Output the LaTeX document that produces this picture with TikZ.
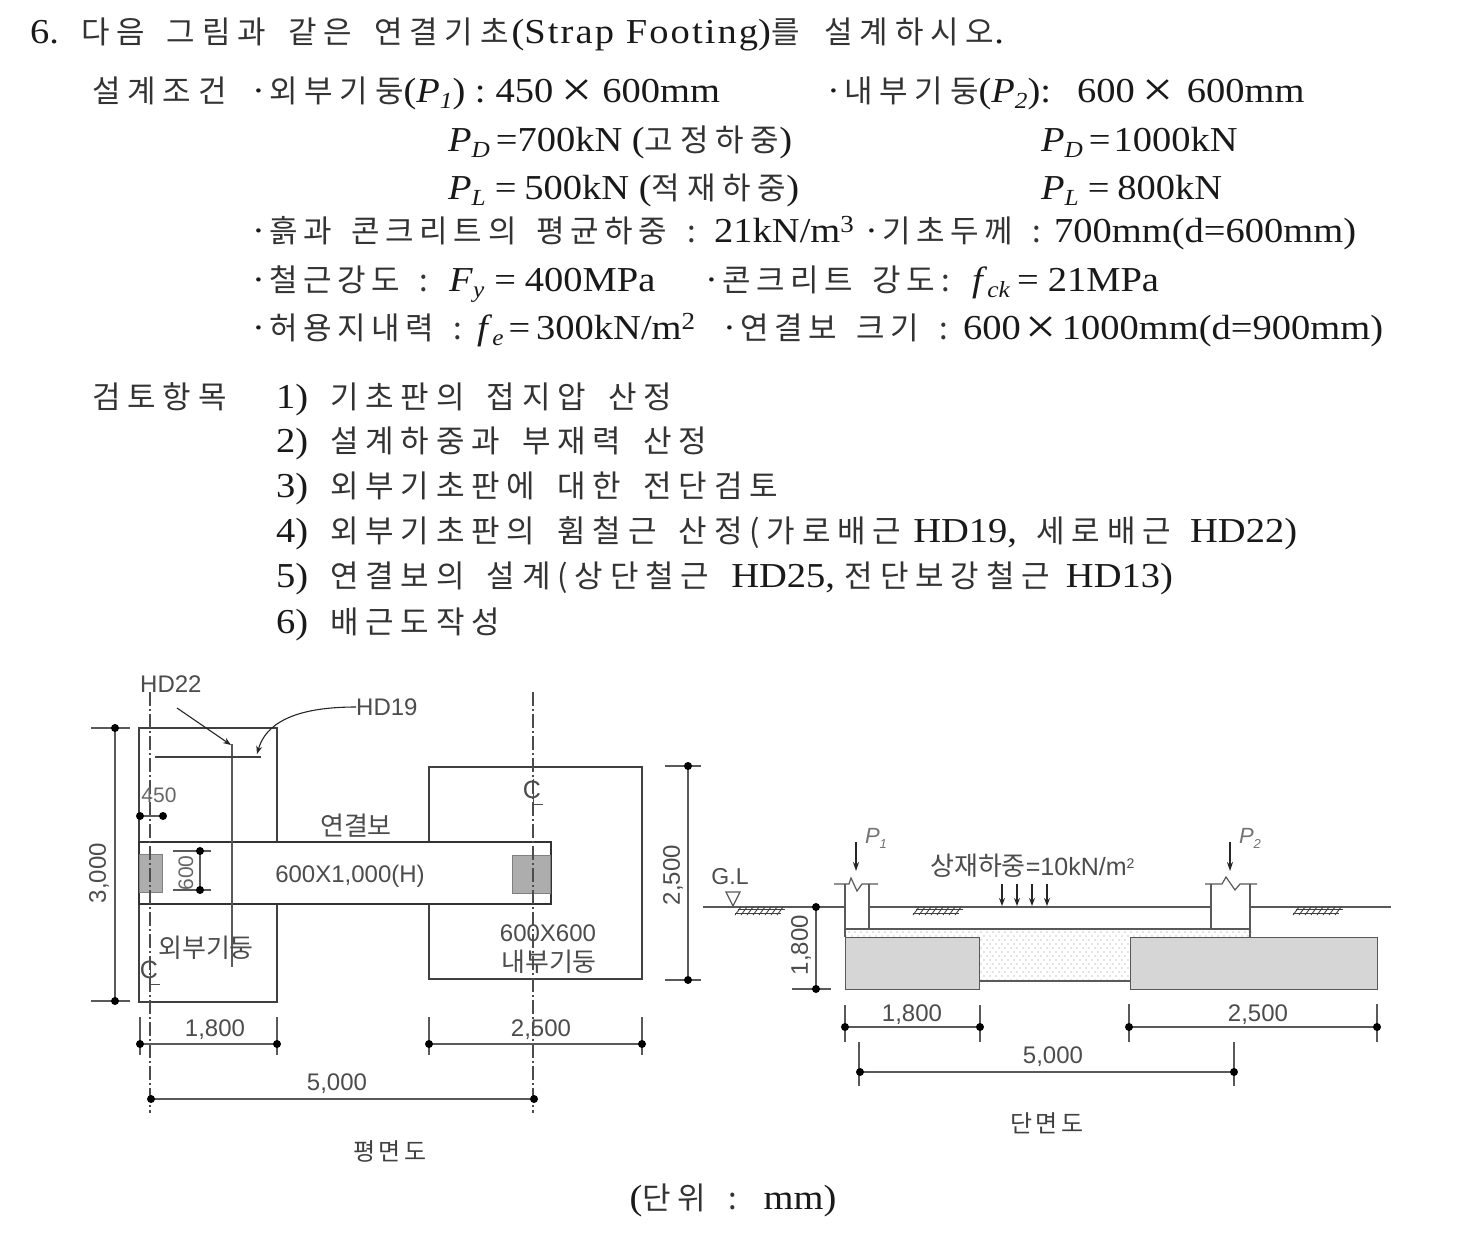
\documentclass[tikz,border=0pt]{standalone}
\usepackage{fontspec}
\setmainfont[FakeStretch=1.10]{Liberation Serif}
\newfontfamily\kofont[LetterSpace=22,WordSpace=1.6]{Noto Sans CJK KR}
\newfontfamily\konar[LetterSpace=18,WordSpace=1.6]{Noto Sans CJK KR}
\newfontfamily\kosm[LetterSpace=16]{Noto Sans CJK KR}
\newfontfamily\kolab{Noto Sans CJK KR}
\newfontfamily\lab{Liberation Sans}
\definecolor{kogray}{gray}{0.2}
\newcommand\tsz{\fontsize{35}{38}\selectfont}
\newcommand\ksz{\fontsize{31}{34}\selectfont}
\newcommand\ko[1]{{\kofont\ksz\color{kogray}#1}}
\newcommand\kn[1]{{\konar\ksz\color{kogray}#1}}
\newcommand\kl[1]{{\kolab\fontsize{26}{28}\selectfont #1}}
\newcommand\vr[2]{\textit{#1}\raisebox{-6pt}{\fontsize{23}{24}\selectfont\textit{#2}}}
\newcommand\tm{\hspace{8pt}\raisebox{-4.5pt}{\fontsize{50}{50}\selectfont ×}\hspace{10pt}}
\newcommand\tmn{\hspace{5pt}\raisebox{-4.5pt}{\fontsize{50}{50}\selectfont ×}\hspace{5pt}}
\newcommand\bul{·\hspace{4pt}}
\usetikzlibrary{arrows.meta}
\tikzset{
  x=1pt,y=-1pt,
  txt/.style={anchor=base west,inner sep=0pt,font=\tsz,text=black!90},
  lbl/.style={inner sep=0pt,font=\fontsize{24}{26}\selectfont\lab,text=black!70},
  lblsm/.style={inner sep=0pt,font=\fontsize{21}{22}\selectfont\lab,text=black!60},
  hl/.style={inner sep=0pt,font=\fontsize{26}{28}\selectfont\kolab,text=black!70},
  title/.style={inner sep=0pt,font=\fontsize{24}{26}\selectfont\kosm,text=black!75},
  dimline/.style={line width=1.1pt,draw=black!65},
  dot/.style={circle,fill=black,inner sep=0pt,minimum size=8pt},
  heavy/.style={line width=2pt,draw=black!75},
  thinl/.style={line width=1.2pt,draw=black!65},
  center/.style={line width=1.3pt,draw=black!70,dash pattern=on 14pt off 3pt on 2pt off 3pt},
  col/.style={fill=black!32,draw=black!50,line width=1pt},
  foot/.style={fill=black!16,draw=black!65,line width=1.2pt},
  la/.style={-{Stealth[length=9pt,width=6pt]},line width=1.6pt,draw=black!85},
  sa/.style={-{Stealth[length=8pt,width=6pt]},line width=1.1pt,draw=black!85},
  hatch/.style={line width=.9pt,draw=black!75},
}
\newcommand\hatchmark[2]{%
  \foreach \i in {0,6,...,42}{\draw[hatch] ({#1+\i+6},#2) -- ({#1+\i},{#2+8});}
  \draw[hatch] ({#1+3},{#2+2.5}) -- ({#1+50},{#2+2.5});
  \draw[hatch] ({#1},{#2+6}) -- ({#1+46},{#2+6});
}
\newcommand\cl[2]{\node[inner sep=0pt,font=\fontsize{25}{26}\selectfont\lab,text=black!70] at (#1,#2) {C};
  \draw[line width=1pt,draw=black!70] ({#1+1},{#2-11}) -- ({#1+1},{#2+14}) -- ({#1+11},{#2+14});}
\begin{document}
\begin{tikzpicture}
\useasboundingbox (0,0) rectangle (1468,1256);
\fill[white] (0,0) rectangle (1468,1256);
% ---- text
\node[txt] (t1) at (30,43) {6.\hspace{22pt}\ko{다음 그림과 같은 연결기초}\hspace{3pt}({\addfontfeature{LetterSpace=6}Strap Footing})\ko{를 \hspace{3pt}설계하시오}.};
\node[txt] (t2) at (92,102) {\ko{설계조건}};
\node[txt] (t3) at (252,102) {\bul\ko{외부기둥}(\vr{P}{1}) :\hspace{10pt}450\tm 600mm};
\node[txt] (t4) at (827,102) {\bul\ko{내부기둥}(\vr{P}{2}):\hspace{26pt}600\tm\hspace{3pt}600mm};
\node[txt] (t5) at (448,151) {\vr{P}{D}\,=700kN (\ko{고정하중})};
\node[txt] (t6) at (1041,151) {\vr{P}{D}\,=\hspace{3pt}1000kN};
\node[txt] (t7) at (448,199) {\vr{P}{L}\hspace{9pt}=\hspace{8pt}500kN (\ko{적재하중})};
\node[txt] (t8) at (1041,199) {\vr{P}{L}\hspace{9pt}=\hspace{8pt}800kN};
\node[txt] (t9) at (252,242) {\bul\kn{흙과 콘크리트의 평균하중 :}};
\node[txt] (t9b) at (714,242) {21kN/m\textsuperscript{3}};
\node[txt] (t9c) at (865,242) {\bul\kn{기초두께 :}};
\node[txt] (t9d) at (1054,242) {700mm(d=600mm)};
\node[txt] (t10) at (252,291) {\bul\kn{철근강도 :}};
\node[txt] (t10b) at (449,291) {\vr{F}{y}\hspace{10pt}=\hspace{9pt}400MPa};
\node[txt] (t11) at (705,291) {\bul\kn{콘크리트 강도:}};
\node[txt] (t11b) at (972,291) {\vr{f}{ck}\hspace{7pt}=\hspace{9pt}21MPa};
\node[txt] (t12) at (252,339) {\bul\kn{허용지내력 :}};
\node[txt] (t12b) at (477,339) {\vr{f}{e}\hspace{5pt}=\hspace{6pt}300kN/m\textsuperscript{2}};
\node[txt] (t13) at (723,339) {\bul\kn{연결보 크기 :}};
\node[txt] (t13b) at (963,339) {600\tmn 1000mm(d=900mm)};
\node[txt] (t14) at (92,408) {\ko{검토항목}};
\node[txt] (t15) at (276,408) {1)\hspace{22pt}\ko{기초판의 접지압 산정}};
\node[txt] (t16) at (276,452) {2)\hspace{22pt}\ko{설계하중과 부재력 산정}};
\node[txt] (t17) at (276,497) {3)\hspace{22pt}\ko{외부기초판에 대한 전단검토}};
\node[txt] (t18) at (276,542) {4)\hspace{22pt}\ko{외부기초판의 휨철근 산정(가로배근 }\hspace{-10pt}HD19,\hspace{10pt} \ko{세로배근 }\hspace{-3pt}HD22)};
\node[txt] (t19) at (276,587) {5)\hspace{22pt}\ko{연결보의 설계(상단철근 }HD25, \ko{전단보강철근 }\hspace{-6pt}HD13)};
\node[txt] (t20) at (276,633) {6)\hspace{22pt}\ko{배근도작성}};
% ---- plan
\draw[heavy] (139,728) rectangle (277,1002);
\draw[heavy,fill=white] (429,767) rectangle (642,979);
\draw[thinl,line width=1.6pt,draw=black!80,fill=white] (139,842) rectangle (551,904);
\node[col,minimum width=23pt,minimum height=38pt,inner sep=0pt] (c1) at (151,873) {};
\node[col,minimum width=38pt,minimum height=38pt,inner sep=0pt] (c2) at (531,874) {};
\draw[center] (150,692) -- (150,1113);
\draw[center] (533,692) -- (533,1113);
\cl{149}{970}
\cl{532}{790}
\draw[thinl] (232,744) -- (232,967);
\draw[heavy] (155,757) -- (261,757);
\coordinate (h22a) at (177,708);
\coordinate (h22b) at (231,745);
\draw[sa] (h22a) -- (h22b);
\node[lbl,anchor=west] (hd22) at (140,684) {HD22};
\node[lbl,anchor=west] (hd19) at (356,707) {HD19};
\draw[sa] (hd19.west) .. controls (310,707) and (268,716) .. (257,754);
\node[lblsm] at (159,795) {450};
\draw[dimline] (139,816) -- (163,816);
\node[dot] at (140,816) {};
\node[dot] at (163,816) {};
\node[lblsm,rotate=90] at (186,873) {600};
\draw[dimline] (173,851) -- (211,851) (173,890) -- (211,890) (200,851) -- (200,890);
\node[dot] at (200,851) {};
\node[dot] at (200,890) {};
\node[hl] at (206,948) {외부기둥};
\node[hl] at (356,826) {연결보};
\node[lbl] at (350,876) {600X1,000(H)};
\node[lbl] at (548,933) {600X600};
\node[hl] at (549,962) {내부기둥};
% dims plan
\draw[dimline] (115,728) -- (115,1001);
\draw[dimline] (91,728) -- (130,728) (91,1001) -- (130,1001);
\node[dot] at (115,728) {};
\node[dot] at (115,1001) {};
\node[lbl,rotate=90] at (99,873) {3,000};
\draw[dimline] (140,1017) -- (140,1055) (277,1017) -- (277,1055) (140,1044) -- (277,1044);
\node[dot] at (140,1044) {};
\node[dot] at (277,1044) {};
\node[lbl] at (215,1030) {1,800};
\draw[dimline] (429,1017) -- (429,1055) (642,1017) -- (642,1055) (429,1044) -- (642,1044);
\node[dot] at (429,1044) {};
\node[dot] at (642,1044) {};
\node[lbl] at (541,1030) {2,500};
\draw[dimline] (151,1099) -- (534,1099);
\node[dot] at (151,1099) {};
\node[dot] at (534,1099) {};
\node[lbl] at (337,1084) {5,000};
\draw[dimline] (665,766) -- (701,766) (665,980) -- (701,980) (688,766) -- (688,980);
\node[dot] at (688,766) {};
\node[dot] at (688,980) {};
\node[lbl,rotate=90] at (673,875) {2,500};
\node[title] at (390,1151) {평면도};
% ---- section
\draw[thinl] (703,907) -- (845,907) (869,907) -- (1211,907) (1250,907) -- (1391,907);
\node[lbl,font=\fontsize{23}{24}\selectfont\lab] at (730,877) {G.L};
\draw[thinl,fill=white] (726,892) -- (740,892) -- (733,906) -- cycle;
\hatchmark{735}{907}
\hatchmark{913}{907}
\hatchmark{1293}{907}
% strap beam
\foreach \yy [count=\r] in {932,936,...,980} {
  \pgfmathsetmacro\off{mod(\r,2)*3}
  \foreach \xx in {846,852,...,1248} {\fill[black!45] ({\xx+\off},\yy) circle (.6pt);}
}
\draw[thinl] (845,929) -- (1250,929) (980,981) -- (1130,981);
\node[foot,minimum width=134pt,minimum height=52pt,inner sep=0pt,anchor=north west] (f1) at (845,937) {};
\node[foot,minimum width=247pt,minimum height=52pt,inner sep=0pt,anchor=north west] (f2) at (1130,937) {};
% columns
\draw[thinl] (845,884) -- (845,937) (869,884) -- (869,929);
\draw[thinl] (1211,884) -- (1211,929) (1250,884) -- (1250,937);
\draw[thinl] (834,884) -- (849,884) -- (851,878) -- (857,891) -- (862,884) -- (878,884);
\draw[thinl] (1205,884) -- (1222,884) -- (1226,877) -- (1235,890) -- (1240,884) -- (1257,884);
\draw[la] (856,842) -- (856,871);
\draw[la] (1230,842) -- (1230,871);
\node[lbl,font=\fontsize{22}{24}\selectfont\lab\itshape,text=black!55] at (876,838) {P\raisebox{-5pt}{\fontsize{13}{14}\selectfont 1}};
\node[lbl,font=\fontsize{22}{24}\selectfont\lab\itshape,text=black!55] at (1250,838) {P\raisebox{-5pt}{\fontsize{13}{14}\selectfont 2}};
\node[hl,anchor=west,font=\fontsize{25}{26}\selectfont\lab] at (930,866) {\kl{상재하중}=10kN/m\raisebox{7pt}{\fontsize{14}{15}\selectfont 2}};
\foreach \x in {1002,1017,1032,1047} {\draw[line width=1.3pt,draw=black!85,-{Stealth[length=8pt,width=6pt]}] (\x,884) -- (\x,906);}
% section dims
\draw[dimline] (816,907) -- (816,989) (792,989) -- (831,989);
\node[dot] at (816,907) {};
\node[dot] at (816,989) {};
\node[lbl,rotate=90] at (801,945) {1,800};
\draw[dimline] (845,1005) -- (845,1042) (980,1005) -- (980,1042) (845,1027) -- (980,1027);
\node[dot] at (845,1027) {};
\node[dot] at (980,1027) {};
\node[lbl] at (912,1015) {1,800};
\draw[dimline] (1129,1004) -- (1129,1042) (1377,1004) -- (1377,1042) (1129,1027) -- (1377,1027);
\node[dot] at (1129,1027) {};
\node[dot] at (1377,1027) {};
\node[lbl] at (1258,1015) {2,500};
\draw[dimline] (859,1042) -- (859,1086) (1234,1042) -- (1234,1086) (859,1072) -- (1234,1072);
\node[dot] at (860,1072) {};
\node[dot] at (1234,1072) {};
\node[lbl] at (1053,1057) {5,000};
\node[title] at (1047,1123) {단면도};
\node[inner sep=0pt,font=\tsz,text=black!90] (u) at (733,1200) {(\ko{단위 : }mm)};
\end{tikzpicture}
\end{document}
